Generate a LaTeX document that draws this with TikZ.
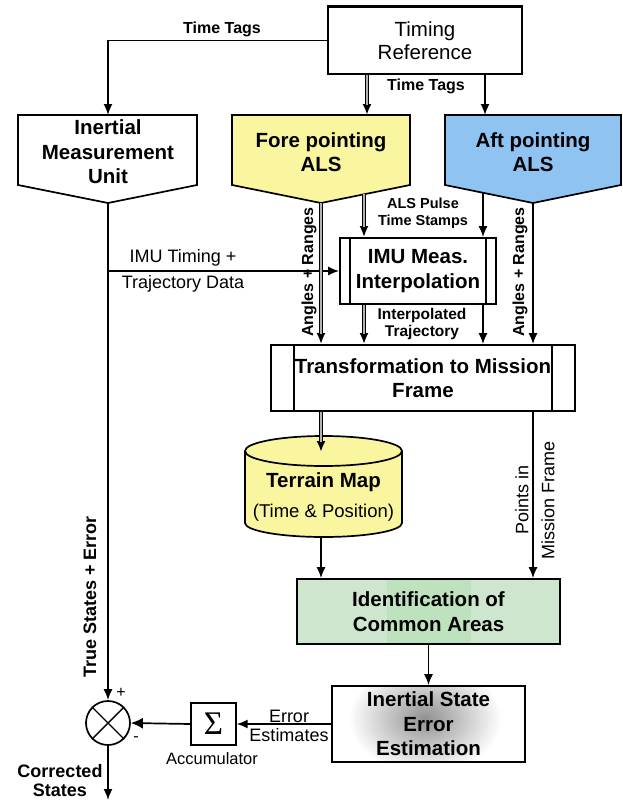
\documentclass[tikz,border=0pt]{standalone}
\usepackage{fontspec}
\setmainfont{Liberation Sans}
\newfontfamily\sigfont{Liberation Serif}
\usetikzlibrary{arrows.meta}
\definecolor{alsyellow}{RGB}{250,246,160}
\definecolor{alsblue}{RGB}{143,196,242}
\definecolor{idgreen}{RGB}{205,230,205}
\definecolor{idstripe}{RGB}{190,226,190}
\tikzset{
  blk/.style={draw, line width=1.7pt, inner sep=0pt, align=center, font=\bfseries\fontsize{20.5}{24.5}\selectfont},
  txt/.style={inner sep=0pt, align=center, font=\bfseries\fontsize{20.5}{24.5}\selectfont},
  lbl/.style={inner sep=0pt, align=center, font=\bfseries\fontsize{16}{18}\selectfont},
  nlbl/.style={inner sep=0pt, align=center, font=\fontsize{18}{20}\selectfont},
  arr/.style={line width=1.7pt, -{Latex[length=11pt,width=9pt]}},
  dbl/.style={line width=4.2pt, postaction={draw, gray!60, line width=2pt, -, shorten >=10pt}},
}
\begin{document}
\begin{tikzpicture}[x=1pt,y=-1pt]
\useasboundingbox (0,0) rectangle (622,800);

% sensor blocks
\draw[line width=1.7pt, fill=white] (18,115) -- (197,115) -- (197,185) -- (108,203) -- (18,185) -- cycle;
\draw[line width=1.7pt, fill=alsyellow] (232,115) -- (410,115) -- (410,185) -- (321,203) -- (232,185) -- cycle;
\draw[line width=1.7pt, fill=alsblue] (445,115) -- (621,115) -- (621,185) -- (533,203) -- (445,185) -- cycle;
\node[txt] (imu) at (108,152) {Inertial\\Measurement\\Unit};
\node[txt] (fore) at (321,152) {Fore pointing\\ALS};
\node[txt] (aft) at (533,152) {Aft pointing\\ALS};
\coordinate (imutop) at (108,115);
\coordinate (imutip) at (108,203);
\coordinate (forein) at (367,115);
\coordinate (aftin) at (485,115);
\coordinate (foretip) at (321,203);
\coordinate (afttip) at (533,203);
\coordinate (foreout) at (364,194.3);
\coordinate (aftout) at (483,192.8);

\node[blk, font=\fontsize{20.5}{23}\selectfont, minimum width=194, minimum height=67] (tr) at (425,40.5) {Timing\\Reference};
\draw[line width=3.2pt] (tr.north west) -- (tr.north east);
\node[blk, minimum width=156, minimum height=66] (ip) at (418,271) {IMU Meas.\\Interpolation};
\draw[line width=1.5pt] ([xshift=11pt]ip.north west) -- ([xshift=11pt]ip.south west)
  ([xshift=-11pt]ip.north east) -- ([xshift=-11pt]ip.south east);
\node[blk, minimum width=304, minimum height=66] (tf) at (423,378) {Transformation to Mission\\Frame};
\draw[line width=1.5pt] ([xshift=24pt]tf.north west) -- ([xshift=24pt]tf.south west)
  ([xshift=-24pt]tf.north east) -- ([xshift=-24pt]tf.south east);

% terrain map drum
\fill[alsyellow] (245,451) rectangle (402,523);
\fill[alsyellow] (323.5,523) ellipse [x radius=78.5pt, y radius=14pt];
\draw[line width=1.7pt, fill=alsyellow] (323.5,451) ellipse [x radius=78.5pt, y radius=15pt];
\draw[line width=1.7pt] (245,451) -- (245,523) arc[start angle=180, end angle=360, x radius=78.5pt, y radius=14pt] -- (402,451);
\node[txt] (tm) at (323.5,497) {Terrain Map\\[5pt]{\mdseries\fontsize{18.5}{20}\selectfont (Time \& Position)}};
\coordinate (tmin) at (321,452);
\coordinate (tmout) at (321,537);

\node[blk, fill=idgreen, minimum width=263, minimum height=65,
  path picture={\fill[idstripe] ([xshift=-42pt]path picture bounding box.north) rectangle ([xshift=42pt]path picture bounding box.south);}]
  (ica) at (428.5,611.5) {Identification of\\Common Areas};
\node[blk, fill=white, minimum width=193, minimum height=76,
  path picture={\foreach \i [evaluate=\i as \r using 78-3*\i, evaluate=\i as \c using 1.7*\i] in {0,...,25}
    \fill[black!\c] ([xshift=-3pt, yshift=5pt]path picture bounding box.center) ellipse [x radius=\r pt, y radius=0.72*\r pt];}]
  (ise) at (428.5,724) {Inertial State\\Error\\Estimation};
\node[draw, line width=1.4pt, minimum width=45, minimum height=42, inner sep=0pt, font=\sigfont\fontsize{33}{33}\selectfont] (acc) at (213.5,724) {Σ};
\node[circle, draw, line width=1.7pt, minimum size=44, inner sep=0pt] (sum) at (108,723) {};
\draw[line width=1.4pt] (sum.north west) -- (sum.south east) (sum.north east) -- (sum.south west);
\coordinate (cout) at (108,800);

% connectors
\draw[arr] (tr.west) -| (imutop);
\draw[arr, dbl] (tr.south -| forein) -- (forein);
\draw[arr] (tr.south -| aftin) -- (aftin);
\draw[arr, dbl] (foreout) -- (ip.north -| foreout);
\draw[arr] (aftout) -- (ip.north -| aftout);
\draw[arr] (imutip |- ip.west) -- (ip.west);
\draw[arr, dbl] (foretip) -- (tf.north -| foretip);
\draw[arr] (afttip) -- (tf.north -| afttip);
\draw[arr, dbl] (ip.south -| foreout) -- (tf.north -| foreout);
\draw[arr] (ip.south -| aftout) -- (tf.north -| aftout);
\draw[arr, dbl] (tf.south -| tmin) -- (tmin);
\draw[arr] (tf.south -| afttip) -- (ica.north -| afttip);
\draw[arr] (tmout) -- (ica.north -| tmout);
\draw[arr] (ica) -- (ise);
\draw[arr] (ise.west) -- (acc.east);
\draw[line width=1.7pt, -{Latex[length=12pt,width=11pt]}] (acc.west) -- (sum.east);
\draw[arr] (imutip) -- (sum.north);
\draw[arr] (sum.south) -- (cout);

% labels
\node[lbl] (tt1) at (222,29) {Time Tags};
\node[lbl] (tt2) at (426,86) {Time Tags};
\node[lbl, font=\bfseries\fontsize{14.5}{17}\selectfont] (alsp) at (423,213) {ALS Pulse\\Time Stamps};
\node[lbl, font=\bfseries\fontsize{15.5}{16.5}\selectfont] (itraj) at (422,324) {Interpolated\\Trajectory};
\node[lbl, rotate=90] (ar1) at (309,272) {Angles + Ranges};
\node[lbl, rotate=90] (ar2) at (520,272) {Angles + Ranges};
\node[nlbl, rotate=90, font=\fontsize{18}{26}\selectfont] (pmf) at (535,500) {Points in\\Mission Frame};
\node[lbl, rotate=90, font=\bfseries\fontsize{18}{20}\selectfont] (tse) at (90,597) {True States + Error};
\node[nlbl] (imut) at (183,258) {IMU Timing +};
\node[nlbl] (trd) at (183,284) {Trajectory Data};
\node[nlbl] (err) at (289,716) {Error};
\node[nlbl] (est) at (289,735) {Estimates};
\node[nlbl, font=\fontsize{16.5}{18}\selectfont] (accl) at (212,759) {Accumulator};
\node[nlbl, font=\fontsize{16}{18}\selectfont] (plus) at (121,693) {+};
\node[nlbl, font=\fontsize{16}{18}\selectfont] (minus) at (136,739) {-};
\node[lbl, font=\bfseries\fontsize{18}{19}\selectfont] (cst) at (60,781) {Corrected\\States};
\end{tikzpicture}
\end{document}
